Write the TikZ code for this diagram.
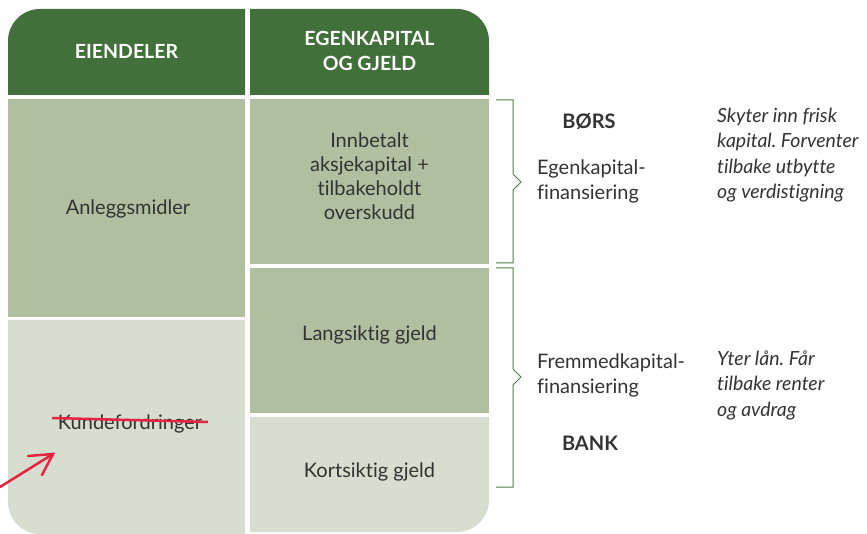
\documentclass[tikz,border=0pt]{standalone}
\usepackage{fontspec}
\setmainfont{Lato}[Ligatures=NoCommon]
\frenchspacing
\definecolor{hdr}{HTML}{41703A}
\definecolor{mid}{HTML}{B0BFA0}
\definecolor{lite}{HTML}{D7DDCF}
\definecolor{txt}{HTML}{333333}
\definecolor{brc}{HTML}{4E7E45}
\definecolor{redl}{HTML}{E62340}
\tikzset{
  hdrtext/.style={text=white,font=\fontsize{19.5}{25}\selectfont\bfseries,align=center},
  boxtext/.style={text=txt,font=\fontsize{20}{24}\selectfont,align=center},
  sidetext/.style={text=txt,font=\fontsize{20}{25}\selectfont,align=left,anchor=west,inner sep=0pt},
  sidebold/.style={text=txt,font=\fontsize{20}{25}\selectfont\bfseries,inner sep=0pt},
  sideital/.style={text=txt,font=\fontsize{19.5}{25.5}\selectfont\itshape,align=left,anchor=west,inner sep=0pt},
  bracel/.style={draw=brc,line width=1pt},
}
\begin{document}
\begin{tikzpicture}[x=1pt,y=-1pt]
\useasboundingbox (0,0) rectangle (867,534);
% headers
\fill[hdr] (8,95) [rounded corners=32pt] -- (8,9) [sharp corners] -- (245,9) -- (245,95) -- cycle;
\fill[hdr] (250,95) -- (250,9) [rounded corners=32pt] -- (489,9) [sharp corners] -- (489,95) -- cycle;
% left column
\fill[mid] (8,99) rectangle (245,317);
\fill[lite] (245,320) -- (8,320) [rounded corners=32pt] -- (8,534) [sharp corners] -- (245,534) -- cycle;
% right column
\fill[mid] (250,99) rectangle (489,264);
\fill[mid] (250,268) rectangle (489,413);
\fill[lite] (250,417) -- (489,417) [rounded corners=32pt] -- (489,532) [sharp corners] -- (250,532) -- cycle;
% texts
\node[hdrtext] (h1) at (126.5,51) {EIENDELER};
\node[hdrtext] (h2) at (369.5,51) {EGENKAPITAL\\OG GJELD};
\node[boxtext] (anl) at (128,209) {Anleggsmidler};
\node[boxtext] (kunde) at (130,424) {Kundefordringer};
\node[boxtext] (innb) at (369.5,176) {Innbetalt\\aksjekapital +\\tilbakeholdt\\overskudd};
\node[boxtext] (lang) at (369.5,335) {Langsiktig gjeld};
\node[boxtext] (kort) at (369.5,472) {Kortsiktig gjeld};
% braces
\coordinate (b1a) at (496,100);
\coordinate (b1b) at (496,263);
\coordinate (b2a) at (496,268);
\coordinate (b2b) at (496,487);
\draw[bracel] (b1a) -- (513,100) -- (513,174) -- (521,182) -- (513,190) -- (513,263) -- (b1b);
\draw[bracel] (b2a) -- (513,268) -- (513,369) -- (521,377) -- (513,385) -- (513,487) -- (b2b);
% side texts
\node[sidebold] (bors) at (589,121) {BØRS};
\node[sidetext] (ek) at (537,181) {Egenkapital-\\finansiering};
\node[sideital] (ekt) at (717,155) {Skyter inn frisk\\kapital. Forventer\\tilbake utbytte\\og verdistigning};
\node[sidetext] (fk) at (537,375) {Fremmedkapital-\\finansiering};
\node[sidebold] (bank) at (590,443) {BANK};
\node[sideital] (fkt) at (717,385) {Yter lån. Får\\tilbake renter\\og avdrag};
% red strike and arrow
\coordinate (s1) at (52,418);
\coordinate (s2) at (208,422);
\draw[redl,line width=2.5pt] (s1) -- (s2);
\coordinate (a0) at (0,487);
\coordinate (a1) at (53,454);
\draw[redl,line width=2.5pt,line cap=round] (a0) -- (a1);
\draw[redl,line width=2.5pt,line cap=round,line join=miter] (28,456) -- (a1) -- (42,475);
\end{tikzpicture}
\end{document}
